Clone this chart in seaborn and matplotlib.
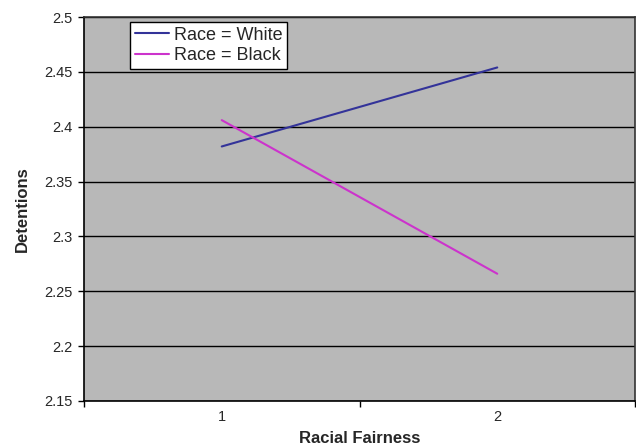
import pandas as pd
import numpy as np
import seaborn as sns
import matplotlib.pyplot as plt

sns.set_style("white")
plt.rcParams["font.family"] = ["Liberation Sans", "DejaVu Sans"]

fairness = [1, 2]
white = [2.382, 2.454]
black = [2.406, 2.266]
series = ["Race = White", "Race = Black"]
colors = ["#333399", "#CC33CC"]

df = pd.DataFrame({
    "Racial Fairness": fairness * 2,
    "Detentions": white + black,
    "Race": [series[0]] * 2 + [series[1]] * 2,
})

fig = plt.figure(figsize=(6.36, 4.47), dpi=100)
ax = fig.add_axes([84 / 636, 1 - 401 / 447, 551 / 636, 384 / 447])
ax.set_facecolor("#B8B8B8")

sns.lineplot(data=df, x="Racial Fairness", y="Detentions", hue="Race",
             palette=colors, linewidth=1.5, ax=ax)

# y axis
ax.set_ylim(2.15, 2.5)
yt = np.arange(2.15, 2.501, 0.05)
ax.set_yticks(yt)
ax.set_yticklabels([f"{v:g}" for v in np.round(yt, 2)], fontsize=10.5)
ax.yaxis.grid(True, color="black", linewidth=1)

# x axis: category boundaries as ticks, labels in between
ax.set_xlim(0.5, 2.5)
ax.set_xticks([0.5, 1.5, 2.5])
ax.set_xticklabels([])
ax.set_xticks(fairness, minor=True)
ax.set_xticklabels([str(v) for v in fairness], minor=True, fontsize=10.5)
ax.tick_params(axis="x", which="minor", length=0, pad=6.5)
ax.tick_params(axis="both", which="major", direction="out", length=4.5,
               color="black", width=1, left=True, bottom=True, pad=4)

for s in ax.spines.values():
    s.set_color("#333333")
    s.set_linewidth(1.2)
ax.spines["left"].set_color("black")
ax.spines["bottom"].set_color("black")

ax.set_xlabel("Racial Fairness", fontsize=12, fontweight="bold", labelpad=5)
ax.set_ylabel("Detentions", fontsize=12, fontweight="bold", labelpad=10)

leg = ax.legend(loc="upper left", bbox_to_anchor=(0.0835, 0.987), fontsize=13,
                frameon=True, fancybox=False, framealpha=1, edgecolor="black",
                borderpad=0.25, handlelength=1.9, handletextpad=0.28,
                labelspacing=0.2, borderaxespad=0)
leg.get_frame().set_linewidth(1)

fig.savefig("out.png", dpi=100)
